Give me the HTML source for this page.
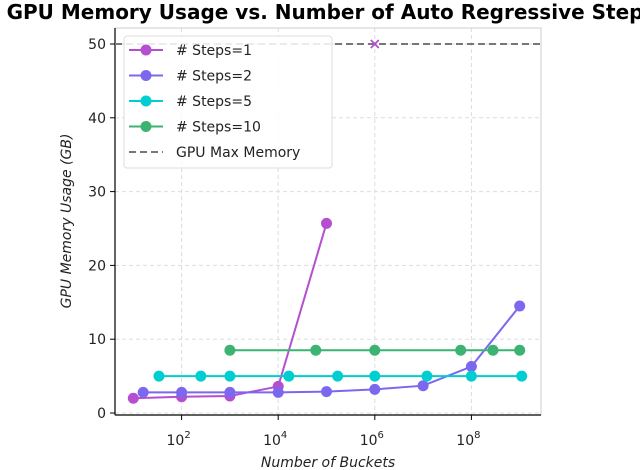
<!DOCTYPE html>
<html><head><meta charset="utf-8"><style>
body{margin:0;background:#fff;overflow:hidden;}
svg{display:block;font-family:"DejaVu Sans","Liberation Sans",sans-serif;}
</style></head><body>
<svg id="chart" width="640" height="470" viewBox="0 0 640 470">
<text x="331" y="19" text-anchor="middle" font-size="20" font-weight="bold" fill="#000">GPU Memory Usage vs. Number of Auto Regressive Steps</text>
<g id="grid"></g>
<g id="axes"></g>
<g id="series"></g>
<g id="legend"></g>
<text x="328" y="467" text-anchor="middle" font-size="14" font-style="italic" fill="#222">Number of Buckets</text>
<text transform="translate(71,221) rotate(-90)" text-anchor="middle" font-size="14" font-style="italic" fill="#222">GPU Memory Usage (GB)</text>
</svg>
<script>
const seriesNames=["# Steps=1","# Steps=2","# Steps=5","# Steps=10"];
const seriesColors=["#b44fd0","#7b68ee","#00ced1","#3cb371"];
const steps1X=[10,100,1000,1e4,1e5];
const steps1Y=[2.0,2.2,2.3,3.6,25.7];
const steps2X=[16,100,1000,1e4,1e5,1e6,1e7,1e8,1e9];
const steps2Y=[2.8,2.8,2.8,2.8,2.9,3.2,3.7,6.3,14.5];
const steps5X=[34,250,1000,16600,170000,1e6,1.2e7,1e8,1.1e9];
const steps5Y=[5,5,5,5,5,5,5,5,5];
const steps10X=[1000,60000,1e6,6e7,2.8e8,1e9];
const steps10Y=[8.5,8.5,8.5,8.5,8.5,8.5];
const oomX=[1e6];
const oomY=[50];
const maxMemory=50;
const yTicks=[0,10,20,30,40,50];
const xTickExps=[2,4,6,8];

const L=115,R=541,T=28,B=415;
const X=v=>85+48.3*Math.log10(v);
const Y=v=>413-7.38*v;
const NS="http://www.w3.org/2000/svg";
function mk(tag,attrs,parent){const e=document.createElementNS(NS,tag);for(const k in attrs)e.setAttribute(k,attrs[k]);parent.appendChild(e);return e;}
const grid=document.getElementById('grid'),axes=document.getElementById('axes'),ser=document.getElementById('series'),leg=document.getElementById('legend');

yTicks.forEach(t=>{
  const g=mk('line',{x1:L,x2:R,y1:Y(t),y2:Y(t),stroke:'#ddd','stroke-dasharray':'4,3','stroke-width':1},grid);
  
  
  const tk=mk('line',{x1:L-5,x2:L,y1:Y(t),y2:Y(t),stroke:'#000'},axes);
  
  
  const tx=mk('text',{x:L-9,y:Y(t)+5,'text-anchor':'end','font-size':14,fill:'#222'},axes);
  tx.textContent=t;
  
  
});
xTickExps.forEach(e=>{
  const x=X(Math.pow(10,e));
  const g=mk('line',{x1:x,x2:x,y1:T,y2:B,stroke:'#ddd','stroke-dasharray':'4,3','stroke-width':1},grid);
  
  
  const tk=mk('line',{x1:x,x2:x,y1:B,y2:B+5,stroke:'#000'},axes);
  
  
  const tx=mk('text',{x:x-3,y:B+30,'text-anchor':'middle','font-size':14,fill:'#222'},axes);
  tx.innerHTML='10<tspan dy="-7" font-size="10">'+e+'</tspan>';
  
  
});
const frame=mk('rect',{x:L,y:T,width:R-L,height:B-T,fill:'none',stroke:'#ccc'},axes);


const sl=mk('line',{x1:L,x2:L,y1:T,y2:B,stroke:'#000','stroke-width':1.2},axes);


const sb=mk('line',{x1:L,x2:R,y1:B,y2:B,stroke:'#000','stroke-width':1.2},axes);



const mx=mk('line',{x1:L,x2:R,y1:Y(maxMemory),y2:Y(maxMemory),stroke:'#777','stroke-width':2,'stroke-dasharray':'7,4'},ser);



const allX=[steps1X,steps2X,steps5X,steps10X],allY=[steps1Y,steps2Y,steps5Y,steps10Y];
allX.forEach((xs,i)=>{
  const g=mk('g',{},ser);
  
  
  const pts=xs.map((x,j)=>X(x)+','+Y(allY[i][j])).join(' ');
  const pl=mk('polyline',{points:pts,fill:'none',stroke:seriesColors[i],'stroke-width':2},g);
  
  
  xs.forEach((x,j)=>{
    const c=mk('circle',{cx:X(x),cy:Y(allY[i][j]),r:5.5,fill:seriesColors[i]},g);
    
    
  });
});
oomX.forEach((x,j)=>{
  const cx=X(x),cy=Y(oomY[j]);
  const p=mk('path',{d:`M${cx-4},${cy-4}L${cx+4},${cy+4}M${cx-4},${cy+4}L${cx+4},${cy-4}`,stroke:seriesColors[0],'stroke-width':1.8},ser);
  
  
});

const box=mk('rect',{x:124,y:36,width:208,height:132,rx:3,fill:'rgba(255,255,255,0.85)',stroke:'#ddd'},leg);


const names=seriesNames.concat(["GPU Max Memory"]);
names.forEach((n,i)=>{
  const y=50+25.5*i;
  const g=mk('g',{},leg);
  
  
  if(i<4){
    mk('line',{x1:129,x2:163,y1:y,y2:y,stroke:seriesColors[i],'stroke-width':2},g);
    mk('circle',{cx:146,cy:y,r:5.5,fill:seriesColors[i]},g);
  }else{
    mk('line',{x1:129,x2:163,y1:y,y2:y,stroke:'#777','stroke-width':2,'stroke-dasharray':'7,4'},g);
  }
  const t=mk('text',{x:176,y:y+5,'font-size':14,fill:'#222'},g);
  t.textContent=n;
});
</script>
</body></html>
